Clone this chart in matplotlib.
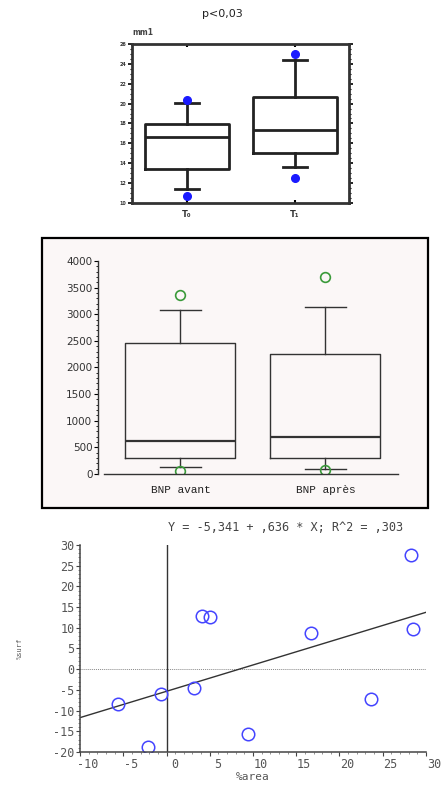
import matplotlib
matplotlib.use("Agg")
import matplotlib.pyplot as plt
import numpy as np
from matplotlib.ticker import MultipleLocator
import matplotlib.transforms as mtransforms
from matplotlib.patches import Rectangle

# ---------------- data ----------------
# top chart (box stats)
top_labels = ["T\u2080", "T\u2081"]
top_q1 = [13.4, 15.0]
top_med = [16.6, 17.35]
top_q3 = [17.95, 20.7]
top_whislo = [11.4, 13.6]
top_whishi = [20.05, 24.4]
top_fliers = [[20.35, 10.7], [25.0, 12.5]]
top_yticks = [10, 12, 14, 16, 18, 20, 22, 24, 26]

# middle chart (BNP)
bnp_labels = ["BNP avant", "BNP après"]
bnp_q1 = [306, 306]
bnp_med = [620, 700]
bnp_q3 = [2466, 2260]
bnp_whislo = [126, 88]
bnp_whishi = [3074, 3136]
bnp_fliers = [[3361, 60], [3694, 70]]
bnp_yticks = [0, 500, 1000, 1500, 2000, 2500, 3000, 3500, 4000]

# bottom chart (scatter + regression)
area_x = [28.3, 28.5, 4.1, 5.0, 16.7, -5.6, -0.6, 3.2, -2.1, 9.4, 23.6]
surf_y = [27.6, 9.8, 12.9, 12.5, 8.8, -8.3, -5.9, -4.5, -18.8, -15.7, -7.3]
reg_intercept = -5.341
reg_slope = 0.636
reg_text = "Y = -5,341 + ,636 * X; R^2 = ,303"
sc_xticks = [-10, -5, 0, 5, 10, 15, 20, 25, 30]
sc_yticks = [-20, -15, -10, -5, 0, 5, 10, 15, 20, 25, 30]

fig = plt.figure(figsize=(4.47, 7.95), dpi=100)
fig.patch.set_facecolor("white")

# ---------------- top chart ----------------
ax1 = fig.add_axes([0.2953, 0.7447, 0.4855, 0.2])
pos1 = [0.2535, 0.751]
stats1 = []
for i in range(2):
    stats1.append(dict(q1=top_q1[i], med=top_med[i], q3=top_q3[i],
                       whislo=top_whislo[i], whishi=top_whishi[i],
                       fliers=top_fliers[i]))
ax1.bxp(stats1, positions=pos1, widths=0.385, showfliers=True,
        boxprops=dict(color="#222222", linewidth=2.0),
        medianprops=dict(color="#222222", linewidth=2.0),
        whiskerprops=dict(color="#222222", linewidth=2.0),
        capprops=dict(color="#222222", linewidth=2.0),
        capwidths=0.11,
        flierprops=dict(marker="o", markerfacecolor="#1a1aff",
                        markeredgecolor="#1a1aff", markersize=5.5))
ax1.set_xlim(0, 1)
ax1.set_ylim(10, 26)
ax1.set_yticks(top_yticks)
ax1.set_yticklabels([str(v) for v in top_yticks], fontsize=3.5,
                    fontweight="bold", color="#333333")
ax1.yaxis.set_minor_locator(MultipleLocator(0.5))
ax1.tick_params(axis="y", which="major", length=3, width=1.2, direction="out",
                right=True, pad=1)
ax1.tick_params(axis="y", which="minor", length=1.5, width=0.8, direction="out",
                right=True)
ax1.set_xticks(pos1)
ax1.set_xticklabels(top_labels, fontsize=6, fontweight="bold", color="#333333")
ax1.tick_params(axis="x", length=2, width=1.5, direction="in", top=True, pad=5)
for sp in ax1.spines.values():
    sp.set_linewidth(2.0)
    sp.set_color("#333333")
fig.text(0.497, 0.982, "p<0,03", ha="center", va="center", fontsize=8,
         color="#222222")
fig.text(0.32, 0.959, "mm1", ha="center", va="center", fontsize=5.5,
         fontweight="bold", color="#444444")

# ---------------- middle chart ----------------
frame = Rectangle((0.094, 0.361), 0.8635, 0.3396, transform=fig.transFigure,
                  facecolor="#fbf7f7", edgecolor="black", linewidth=1.6,
                  zorder=0)
fig.patches.append(frame)
ax2 = fig.add_axes([0.2192, 0.4038, 0.6711, 0.2679])
ax2.set_zorder(3)
ax2.set_facecolor("none")
pos2 = [0.26, 0.753]
stats2 = []
for i in range(2):
    stats2.append(dict(q1=bnp_q1[i], med=bnp_med[i], q3=bnp_q3[i],
                       whislo=bnp_whislo[i], whishi=bnp_whishi[i],
                       fliers=bnp_fliers[i]))
ax2.bxp(stats2, positions=pos2, widths=0.373, showfliers=True,
        boxprops=dict(color="#333333", linewidth=1.0),
        medianprops=dict(color="#333333", linewidth=1.6),
        whiskerprops=dict(color="#333333", linewidth=1.0),
        capprops=dict(color="#333333", linewidth=1.0),
        capwidths=0.14,
        flierprops=dict(marker="o", markerfacecolor="none",
                        markeredgecolor="#3a9a3a", markersize=7,
                        markeredgewidth=1.2))
ax2.set_xlim(-0.02, 1)
ax2.set_ylim(0, 4000)
ax2.set_yticks(bnp_yticks)
ax2.set_yticklabels([str(v) for v in bnp_yticks], fontsize=7.5,
                    color="#333333")
ax2.yaxis.set_minor_locator(MultipleLocator(100))
ax2.tick_params(axis="y", which="major", length=3, width=0.8, pad=1)
ax2.tick_params(axis="y", which="minor", length=1.5, width=0.6)
ax2.set_xticks(pos2)
ax2.set_xticklabels(bnp_labels, fontsize=8, family="Liberation Mono",
                    color="#222222")
ax2.tick_params(axis="x", length=0, pad=8)
ax2.spines["top"].set_visible(False)
ax2.spines["right"].set_visible(False)
ax2.spines["left"].set_bounds(0, 4000)
ax2.spines["bottom"].set_bounds(0.0, 1.0)
for s in ["left", "bottom"]:
    ax2.spines[s].set_linewidth(1.0)
    ax2.spines[s].set_color("#333333")

# ---------------- bottom chart ----------------
ax3 = fig.add_axes([0.179, 0.0541, 0.774, 0.2604])
ax3.axhline(0, color="#888888", linewidth=0.7, linestyle=(0, (1, 1)))
ax3.axvline(0, color="#333333", linewidth=1.0)
xl = np.array([-10, 30])
ax3.plot(xl, reg_intercept + reg_slope * xl, color="#333333", linewidth=1.0)
ax3.plot(area_x, surf_y, linestyle="none", marker="o", markersize=9,
         markerfacecolor="none", markeredgecolor="#4444ff",
         markeredgewidth=1.1)
ax3.set_xlim(-10, 30)
ax3.set_ylim(-20, 30)
ax3.set_xticks(sc_xticks)
ax3.set_yticks(sc_yticks)
ax3.set_xticklabels([str(v) for v in sc_xticks], fontsize=8.5,
                    family="DejaVu Sans Mono", color="#555555")
ax3.set_yticklabels([str(v) for v in sc_yticks], fontsize=8.5,
                    family="DejaVu Sans Mono", color="#555555")
ax3.xaxis.set_minor_locator(MultipleLocator(1))
ax3.yaxis.set_minor_locator(MultipleLocator(1))
ax3.tick_params(axis="both", which="major", length=3, width=0.8, pad=1,
                color="#444444")
ax3.tick_params(axis="both", which="minor", length=1.5, width=0.5,
                color="#666666")
offset = mtransforms.ScaledTranslation(8 / 100, 0, fig.dpi_scale_trans)
for lab in ax3.get_xticklabels():
    lab.set_transform(lab.get_transform() + offset)
ax3.spines["top"].set_visible(False)
ax3.spines["right"].set_visible(False)
for s in ["left", "bottom"]:
    ax3.spines[s].set_linewidth(1.1)
    ax3.spines[s].set_color("#444444")
ax3.set_xlabel("%area", fontsize=8, family="DejaVu Sans Mono",
               color="#555555", labelpad=1)
ax3.set_ylabel("%surf", fontsize=5, family="DejaVu Sans Mono",
               color="#555555", labelpad=22)
fig.text(0.376, 0.336, reg_text, ha="left", va="center", fontsize=8.6,
         family="DejaVu Sans Mono", color="#444444")

fig.savefig("out.png", dpi=100)
